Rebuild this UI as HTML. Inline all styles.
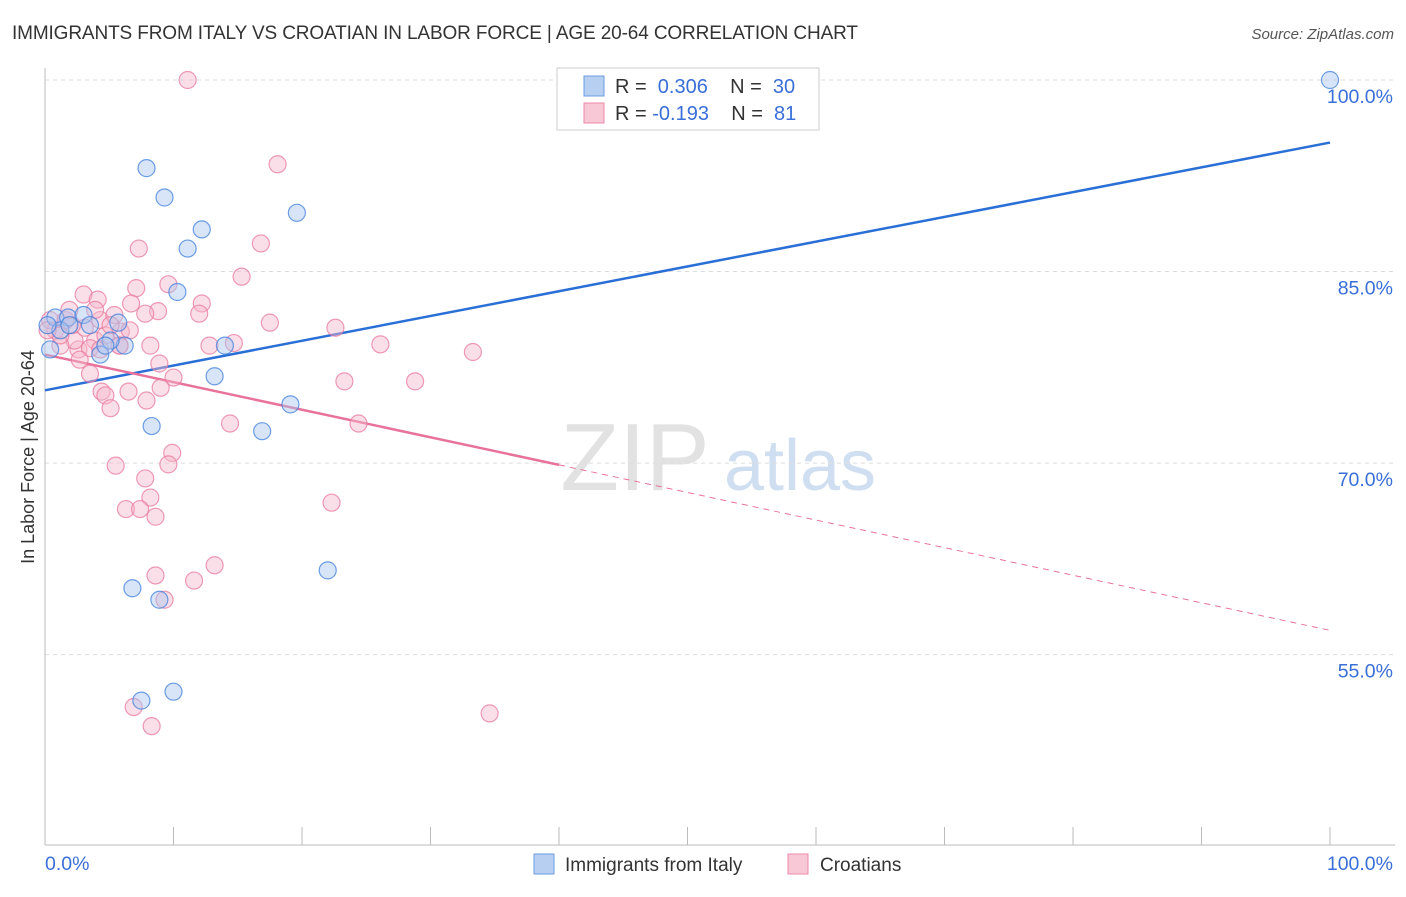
<!DOCTYPE html>
<html><head><meta charset="utf-8"><style>
body{margin:0;background:#fff;font-family:"Liberation Sans",sans-serif;}
svg text{font-family:"Liberation Sans",sans-serif;}
</style></head><body>
<svg width="1406" height="892" id="chart">
<text x="12" y="39" font-size="19" fill="#333" textLength="846">IMMIGRANTS FROM ITALY VS CROATIAN IN LABOR FORCE | AGE 20-64 CORRELATION CHART</text>
<text x="1394" y="39" font-size="15" fill="#555" font-style="italic" text-anchor="end">Source: ZipAtlas.com</text>
<text x="34" y="457" font-size="18" fill="#333" text-anchor="middle" transform="rotate(-90 34 457)">In Labor Force | Age 20-64</text>
<g><text x="635" y="490" font-size="96" fill="#e2e2e2" font-family="Liberation Serif" text-anchor="middle">ZIP</text><text x="800" y="490" font-size="72" fill="#cfdef0" text-anchor="middle">atlas</text></g>
<g id="grid"></g><g id="axes"></g><g id="lines"></g><g id="pts"></g>
<g>
<rect x="557" y="68" width="262" height="62" fill="#fff" stroke="#ccc"/>
<rect x="584" y="76" width="20" height="20" fill="#b7d0f2" stroke="#6a9be0"/>
<rect x="584" y="103" width="20" height="20" fill="#f9c8d6" stroke="#ec8aa8"/>
<text x="615" y="93" font-size="20" fill="#333">R = <tspan fill="#3a6fd8">&#160;0.306</tspan>&#160;&#160;&#160;&#160;N = <tspan fill="#3a6fd8">&#160;30</tspan></text>
<text x="615" y="120" font-size="20" fill="#333">R = <tspan fill="#3a6fd8">-0.193</tspan>&#160;&#160;&#160;&#160;N = <tspan fill="#3a6fd8">&#160;81</tspan></text>
</g>
<g>
<rect x="534" y="854" width="20" height="20" fill="#b7d0f2" stroke="#6a9be0"/>
<text x="565" y="871" font-size="19" fill="#333">Immigrants from Italy</text>
<rect x="788" y="854" width="20" height="20" fill="#f9c8d6" stroke="#ec8aa8"/>
<text x="820" y="871" font-size="19" fill="#333">Croatians</text>
</g>
</svg>
<script>
const yTicks=[55,70,85,100];
const xTickLabels=["0.0%","100.0%"];
const blueX=[100,7.9,9.3,19.6,12.2,11.1,10.3,0.8,1.8,3.0,3.5,5.7,14.0,6.2,4.3,13.2,19.1,8.3,16.9,22.0,6.8,8.9,7.5,10.0,0.4,1.2,5.1,1.9,4.7,0.2];
const blueY=[100,93.1,90.8,89.6,88.3,86.8,83.4,81.4,81.4,81.6,80.8,81.0,79.2,79.2,78.5,76.8,74.6,72.9,72.5,61.6,60.2,59.3,51.4,52.1,78.9,80.4,79.6,80.8,79.2,80.8];
const pinkX=[11.1,18.1,7.3,16.8,15.3,3.0,7.1,9.6,4.1,6.7,12.2,8.8,7.8,12.0,17.5,22.6,5.9,14.7,12.8,26.1,33.3,8.9,10.0,9.0,23.3,28.8,4.4,6.5,4.7,7.9,5.1,14.4,24.4,9.9,9.6,5.5,7.8,8.2,22.3,6.3,7.4,8.6,13.2,8.6,11.6,9.3,6.9,8.3,34.6,3.5,2.6,2.3,3.9,5.8,1.2,0.8,3.1,4.3,4.7,2.1,0.4,1.6,3.5,5.4,5.1,6.6,2.7,8.2,4.3,5.8,1.9,1.2,0.2,3.9];
const pinkY=[100,93.4,86.8,87.2,84.6,83.2,83.7,84.0,82.8,82.5,82.5,81.9,81.7,81.7,81.0,80.6,80.3,79.4,79.2,79.3,78.7,77.8,76.7,75.9,76.4,76.4,75.6,75.6,75.3,74.9,74.3,73.1,73.1,70.8,69.9,69.8,68.8,67.3,66.9,66.4,66.4,65.8,62.0,61.2,60.8,59.3,50.9,49.4,50.4,77.0,78.9,79.6,79.6,79.2,79.2,80.4,80.6,81.2,80.0,80.8,81.2,81.2,79.0,81.6,80.8,80.4,78.1,79.2,78.9,79.2,82.0,80.0,80.4,82.0];
const blueLine=[75.7,95.1];
const pinkLine=[78.5,56.9];
const NS="http://www.w3.org/2000/svg";
const X=v=>45+v*12.85, Y=v=>80+(100-v)*12.77;
function mk(t,a,p){const e=document.createElementNS(NS,t);for(const k in a)e.setAttribute(k,a[k]);document.getElementById(p).appendChild(e);return e;}
yTicks.forEach(t=>{
 const l=mk('line',{x1:45,x2:1395,y1:Y(t),y2:Y(t),stroke:'#ddd','stroke-dasharray':'4,4'},'grid');
 
 
 const tx=mk('text',{x:1393,y:Y(t)+23,'font-size':19.5,fill:'#3a6fd8','text-anchor':'end'},'axes');
 tx.textContent=t.toFixed(1)+'%';
 
 
});
mk('line',{x1:45,x2:45,y1:68,y2:845,stroke:'#bbb'},'axes');
mk('line',{x1:45,x2:1395,y1:845,y2:845,stroke:'#bbb'},'axes');
for(let i=1;i<=10;i++){const t=mk('line',{x1:X(i*10),x2:X(i*10),y1:827,y2:845,stroke:'#bbb'},'axes');
 
 }
[[0,'start',45],[1,'end',1393]].forEach(([i,a,x])=>{const t=mk('text',{x:x,y:870,'font-size':19.5,fill:'#3a6fd8','text-anchor':a},'axes');t.textContent=xTickLabels[i];
 
 });
function pts(xs,ys,f,s,n){xs.forEach((x,i)=>{const c=mk('circle',{cx:X(x),cy:Y(ys[i]),r:8.5,fill:f,'fill-opacity':0.45,stroke:s,'stroke-opacity':0.75,'stroke-width':1.2},'pts');
 
 });}
pts(pinkX,pinkY,'#f7b8cb','#e8799d','croatian-point');
pts(blueX,blueY,'#a9c6ef','#3f7fdc','italy-point');
const bl=mk('line',{x1:X(0),y1:Y(blueLine[0]),x2:X(100),y2:Y(blueLine[1]),stroke:'#2a6fd6','stroke-width':2.5},'lines');


const pm=v=>pinkLine[0]+(pinkLine[1]-pinkLine[0])*v/100;
const pl=mk('line',{x1:X(0),y1:Y(pm(0)),x2:X(40),y2:Y(pm(40)),stroke:'#e8739a','stroke-width':2.5},'lines');


const pd=mk('line',{x1:X(40),y1:Y(pm(40)),x2:X(100),y2:Y(pm(100)),stroke:'#e8739a','stroke-width':1,'stroke-dasharray':'6,5'},'lines');


</script>
</body></html>
